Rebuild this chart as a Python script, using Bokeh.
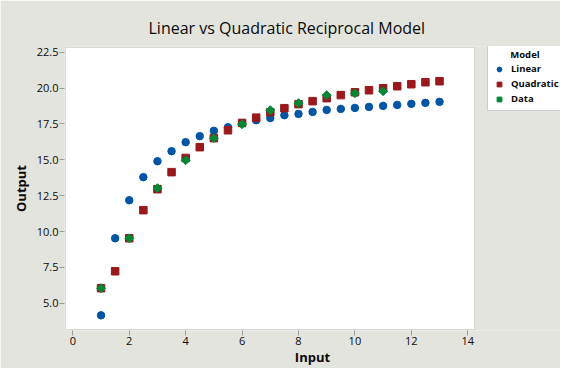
import numpy as np
from bokeh.plotting import figure
from bokeh.models import (Range1d, FixedTicker, Legend, LegendItem,
                          NumeralTickFormatter, BoxAnnotation)
from bokeh.embed import file_html
from bokeh.resources import INLINE

# Data
x_model = [1, 1.5, 2, 2.5, 3, 3.5, 4, 4.5, 5, 5.5, 6, 6.5, 7, 7.5, 8, 8.5, 9, 9.5,
           10, 10.5, 11, 11.5, 12, 12.5, 13]
linear = [4.16, 9.53, 12.18, 13.79, 14.90, 15.60, 16.23, 16.65, 17.02, 17.27, 17.55,
          17.76, 17.91, 18.11, 18.20, 18.34, 18.48, 18.55, 18.62, 18.69, 18.76, 18.83,
          18.90, 18.97, 19.04]
quadratic = [6.05, 7.23, 9.53, 11.49, 12.95, 14.14, 15.13, 15.88, 16.51, 17.06, 17.57,
             17.94, 18.32, 18.60, 18.88, 19.09, 19.30, 19.51, 19.71, 19.85, 19.99, 20.13,
             20.27, 20.41, 20.48]
x_data = [1, 2, 3, 4, 5, 6, 7, 8, 9, 10, 11]
data = [6.05, 9.53, 13.02, 14.97, 16.51, 17.48, 18.46, 18.95, 19.51, 19.64, 19.78]

x_ticks = [0, 2, 4, 6, 8, 10, 12, 14]
y_ticks = [5.0, 7.5, 10.0, 12.5, 15.0, 17.5, 20.0, 22.5]
legend_title = "Model"

# visible data area of the chart
X_LO, X_HI = -0.26, 14.24
Y_LO, Y_HI = 3.17, 22.83

BG = "#E4E4DF"
BLUE = "#0055A5"
RED = "#99191C"
GREEN = "#008835"
EDGE = "#9A9A9A"
INK = "#0A0A0A"
FONT = "Open Sans"

# The frame is extended to the right so the legend can sit beside the
# white plotting area; the white area itself is a box in data units.
px_x = (X_HI - X_LO) / 409.0
px_y = (Y_HI - Y_LO) / 282.0
p = figure(width=560, height=368, output_backend="svg", toolbar_location=None,
           x_range=Range1d(X_LO - px_x, X_LO + 495 * px_x),
           y_range=Range1d(Y_LO - px_y, Y_HI + px_y),
           min_border_left=64, min_border_right=0, min_border_top=46,
           min_border_bottom=38)
p.background_fill_color = BG
p.border_fill_color = BG
p.outline_line_color = None
p.grid.visible = False

p.add_layout(BoxAnnotation(left=X_LO, right=X_HI, bottom=Y_LO, top=Y_HI,
                           fill_color="white", fill_alpha=1.0,
                           line_color=EDGE, line_width=1, level="underlay"))

p.title.text = "Linear vs Quadratic Reciprocal Model"
p.title.align = "left"
p.title.text_font = FONT
p.title.text_font_size = "16px"
p.title.text_font_style = "normal"
p.title.text_color = INK
p.title.offset = 84
p.title.standoff = 15

for ax in (p.xaxis[0], p.yaxis[0]):
    ax.axis_line_color = None
    ax.major_tick_line_color = EDGE
    ax.major_tick_in = 0
    ax.major_tick_out = 5
    ax.minor_tick_line_color = None
    ax.major_label_text_font = FONT
    ax.major_label_text_font_size = "11px"
    ax.major_label_text_color = INK
    ax.axis_label_text_font = FONT
    ax.axis_label_text_font_size = "13px"
    ax.axis_label_text_font_style = "bold"
    ax.axis_label_text_color = INK
    ax.major_label_standoff = 1

p.xaxis.ticker = FixedTicker(ticks=x_ticks)
p.yaxis.ticker = FixedTicker(ticks=y_ticks)
p.yaxis.formatter = NumeralTickFormatter(format="0.0")
p.xaxis.axis_label = "Input"
p.yaxis.axis_label = "Output"
p.xaxis.axis_label_standoff = 0
p.yaxis.axis_label_standoff = 4

r_lin = p.scatter(x_model, linear, marker="circle", size=7.5, color=BLUE)
r_quad = p.scatter(x_model, quadratic, marker="square", size=7.5, color=RED)
r_data = p.scatter(x_data, data, marker="square", angle=np.pi / 4, size=6.3,
                   color=GREEN)

# heading indented (non-breaking spaces) to line up with the item labels
legend = Legend(items=[LegendItem(label="Linear", renderers=[r_lin]),
                       LegendItem(label="Quadratic", renderers=[r_quad]),
                       LegendItem(label="Data", renderers=[r_data])],
                location=(423, 219), title="\u00a0" * 7 + legend_title)
legend.title_text_font = FONT
legend.title_text_font_size = "9.5px"
legend.title_text_font_style = "bold"
legend.title_text_color = INK
legend.title_standoff = 1
legend.label_text_font = FONT
legend.label_text_font_size = "9.5px"
legend.label_text_font_style = "bold"
legend.label_text_color = INK
legend.label_height = 12
legend.label_standoff = 6
legend.glyph_height = 12
legend.glyph_width = 12
legend.spacing = 2
legend.padding = 5
legend.margin = 0
legend.border_line_color = EDGE
legend.background_fill_color = "white"
legend.background_fill_alpha = 1
p.add_layout(legend, "center")

open("out.html", "w").write(file_html(p, INLINE))
